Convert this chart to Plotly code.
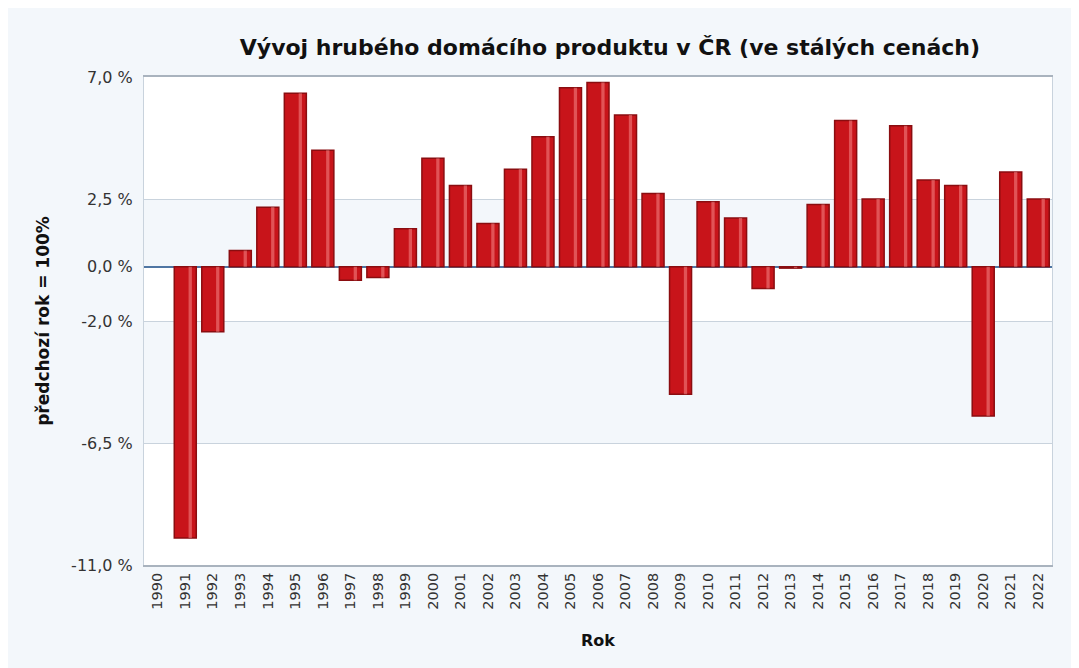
import plotly.graph_objects as go

years = [str(y) for y in range(1990, 2023)]
growth = [None, -10.0, -2.4, 0.6, 2.2, 6.4, 4.3, -0.5, -0.4, 1.4, 4.0, 3.0, 1.6, 3.6,
          4.8, 6.6, 6.8, 5.6, 2.7, -4.7, 2.4, 1.8, -0.8, -0.05, 2.3, 5.4, 2.5, 5.2,
          3.2, 3.0, -5.5, 3.5, 2.5]
tick_vals = [7.0, 2.5, 0.0, -2.0, -6.5, -11.0]
tick_text = ["7,0 %", "2,5 %", "0,0 %", "-2,0 %", "-6,5 %", "-11,0 %"]
bands = [(2.5, 0.0), (-2.0, -6.5)]

# page body adds an 8px margin
W, H = 1071, 660
L, R, T, B = 136, 27, 69, 103

font = "DejaVu Sans, Verdana, sans-serif"
bg = "#f3f7fb"

fig = go.Figure()
fig.add_trace(go.Bar(
    x=years, y=growth, width=0.8, offset=-0.4,
    marker=dict(color="#c8141a", line=dict(color="#8a0d10", width=1.5)),
    hoverinfo="x+y",
))
fig.add_trace(go.Bar(
    x=years, y=growth, width=0.12, offset=0.12,
    marker=dict(color="rgba(255,160,160,0.45)", line=dict(width=0)),
    hoverinfo="skip",
))

shapes = []
for a, b in bands:
    shapes.append(dict(type="rect", xref="paper", yref="y", layer="below",
                       x0=0, x1=1, y0=b, y1=a, fillcolor=bg, line=dict(width=0)))

fig.update_layout(
    width=W, height=H,
    margin=dict(l=L, r=R, t=T, b=B),
    paper_bgcolor=bg, plot_bgcolor="white",
    font=dict(family=font, size=14, color="#333333"),
    title=dict(text="<b>Vývoj hrubého domácího produktu v ČR (ve stálých cenách)</b>",
               x=0.562, xanchor="center", y=1 - 39 / H, yanchor="middle",
               font=dict(size=22, color="#111111", family=font)),
    showlegend=False,
    barmode="overlay",
    shapes=shapes,
    xaxis=dict(type="category", tickangle=-90, showgrid=False,
               tickfont=dict(size=14.5, color="#333333"),
               showline=True, linecolor="#a9b3be", linewidth=2, mirror=True,
               ticks="", range=[-0.5, 32.5],
               title=dict(text="<b>Rok</b>", font=dict(size=16, color="#111111"), standoff=26)),
    yaxis=dict(range=[-11.0, 7.0], tickvals=tick_vals, ticktext=tick_text,
               showgrid=True, gridcolor="#c9d3dd", gridwidth=1,
               zeroline=True, zerolinecolor="#4f76a3", zerolinewidth=1.5,
               showline=True, linecolor="#c9d3dd", mirror=True,
               ticks="", ticklabelstandoff=7,
               tickfont=dict(size=16, color="#333333"),
               title=dict(text="<b>předchozí rok = 100%</b>", font=dict(size=17, color="#111111"), standoff=17)),
)

fig.write_html("out.html")
